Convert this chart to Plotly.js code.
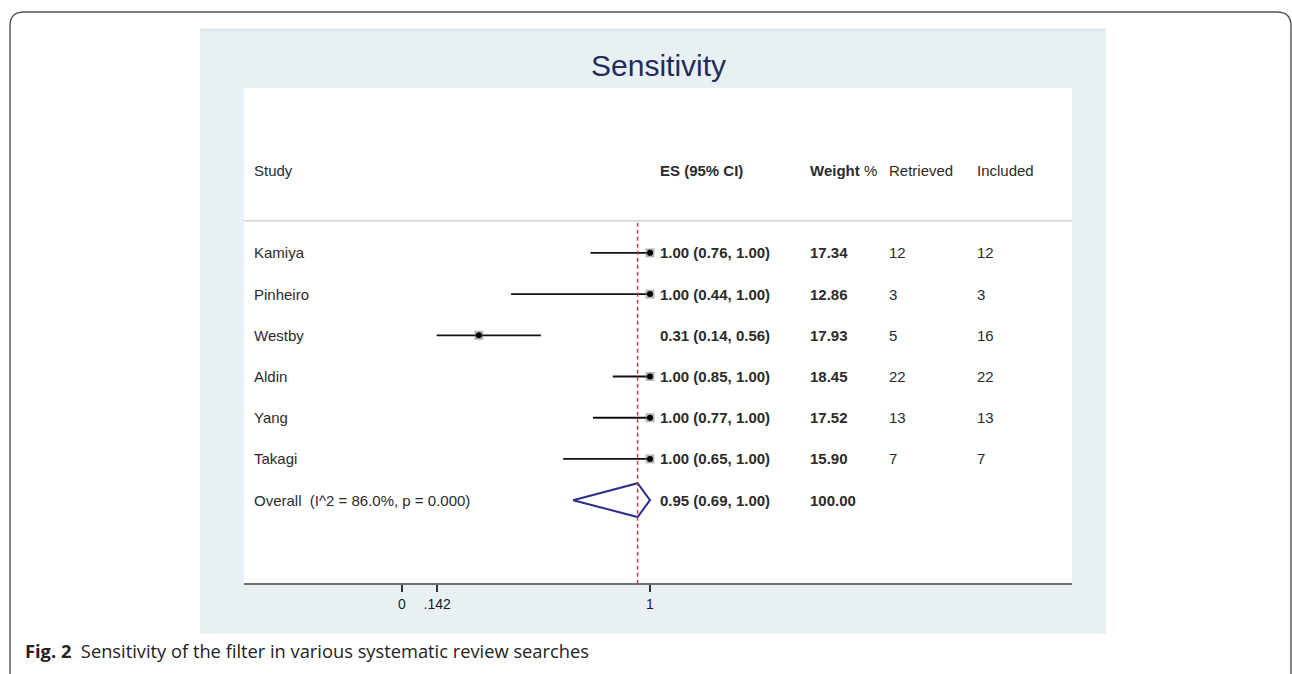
<!DOCTYPE html>
<html>
<head>
<meta charset="utf-8">
<script src="https://cdn.plot.ly/plotly-3.0.1.min.js"></script>
<style>html,body{margin:0;padding:0;background:#fff;}#chart{width:1292px;height:674px;}</style>
</head>
<body>
<div id="chart"></div>
<script>
// ---- data ----
const studies   = ['Kamiya', 'Pinheiro', 'Westby', 'Aldin', 'Yang', 'Takagi'];
const es        = [1.00, 1.00, 0.31, 1.00, 1.00, 1.00];
const ciLow     = [0.76, 0.44, 0.14, 0.85, 0.77, 0.65];
const ciHigh    = [1.00, 1.00, 0.56, 1.00, 1.00, 1.00];
const weights   = [17.34, 12.86, 17.93, 18.45, 17.52, 15.90];
const retrieved = [12, 3, 5, 22, 13, 7];
const included  = [12, 3, 16, 22, 13, 7];
const overallLabel = 'Overall  (I^2 = 86.0%, p = 0.000)';
const overallES = 0.95, overallLow = 0.69, overallHigh = 1.00, overallWeight = 100.00;
const tickVals  = [0, 0.142, 1];
const tickText  = ['0', '.142', '1'];
const headers   = {study: 'Study', es: '<b>ES (95% CI)</b>', weight: '<b>Weight</b> %', retrieved: 'Retrieved', included: 'Included'};

// ---- geometry (pixels of the 1292x674 canvas) ----
const W = 1292, H = 674;
const px = v => v / W, py = v => 1 - v / H;
const rows = studies.map((s, i) => i + 1);
const overallRow = studies.length + 1;
const headerRow = -1;
const sepRow = 0.22;

const fmt2 = v => v.toFixed(2);
const esText = (e, l, h) => '<b>' + fmt2(e) + ' (' + fmt2(l) + ', ' + fmt2(h) + ')</b>';

// CI line trace
const lx = [], ly = [];
studies.forEach((s, i) => { lx.push(ciLow[i], ciHigh[i], null); ly.push(rows[i], rows[i], null); });

const traces = [
  {x: lx, y: ly, mode: 'lines', line: {color: '#111', width: 1.8}, hoverinfo: 'skip', showlegend: false},
  {x: es, y: rows, mode: 'markers', marker: {symbol: 'square', size: 9, color: 'rgba(110,110,110,0.5)'}, hoverinfo: 'skip', showlegend: false},
  {x: es, y: rows, mode: 'markers', marker: {symbol: 'circle', size: 6, color: '#000'}, hoverinfo: 'skip', showlegend: false},
  {x: [overallLow, overallES, overallHigh, overallES, overallLow],
   y: [overallRow, overallRow - 0.41, overallRow, overallRow + 0.41, overallRow],
   mode: 'lines', line: {color: '#2a2e8c', width: 2}, hoverinfo: 'skip', showlegend: false}
];

const baseFont = {family: 'Liberation Sans, Arial, sans-serif', size: 15, color: '#2b2b2b'};
const col = {study: 252, es: 658, weight: 808, retrieved: 887, included: 975};

const ann = [];
function addText(x, y, text, extra) {
  ann.push(Object.assign({xref: 'paper', yref: 'y', x: px(x), y: y, text: text, showarrow: false,
    xanchor: 'left', yanchor: 'middle', font: baseFont}, extra || {}));
}
addText(col.study, headerRow, headers.study);
addText(col.es, headerRow, headers.es);
addText(col.weight, headerRow, headers.weight);
addText(col.retrieved, headerRow, headers.retrieved);
addText(col.included, headerRow, headers.included);
studies.forEach((s, i) => {
  addText(col.study, rows[i], s);
  addText(col.es, rows[i], esText(es[i], ciLow[i], ciHigh[i]));
  addText(col.weight, rows[i], '<b>' + fmt2(weights[i]) + '</b>');
  addText(col.retrieved, rows[i], String(retrieved[i]));
  addText(col.included, rows[i], String(included[i]));
});
addText(col.study, overallRow, overallLabel);
addText(col.es, overallRow, esText(overallES, overallLow, overallHigh));
addText(col.weight, overallRow, '<b>' + fmt2(overallWeight) + '</b>');

// title
ann.push({xref: 'paper', yref: 'paper', x: px(658), y: py(65), text: 'Sensitivity', showarrow: false,
  xanchor: 'center', yanchor: 'middle', font: {family: 'Liberation Sans, Arial, sans-serif', size: 30, color: '#1f2d5c'}});
// caption
ann.push({xref: 'paper', yref: 'paper', x: px(23), y: py(650),
  text: '<b>Fig. 2</b>  Sensitivity of the filter in various systematic review searches', showarrow: false,
  xanchor: 'left', yanchor: 'middle', font: {family: 'Open Sans, Noto Sans, sans-serif', size: 18.3, color: '#222'}});

const plotL = 244, plotR = 1072, plotT = 88, plotB = 583;
const zeroPx = 402, unitPx = 248;
const xRange = [(plotL - zeroPx) / unitPx, (plotR - zeroPx) / unitPx];

const shapes = [
  {type: 'rect', xref: 'paper', yref: 'paper', x0: px(200), x1: px(1106), y0: py(634), y1: py(29),
   fillcolor: '#e9f0f3', line: {width: 0}, layer: 'below'},
  {type: 'line', xref: 'paper', yref: 'paper', x0: px(200), x1: px(1106), y0: py(29.5), y1: py(29.5),
   line: {color: '#dde3e6', width: 1.5}, layer: 'below'},
  {type: 'rect', xref: 'paper', yref: 'paper', x0: px(plotL), x1: px(plotR), y0: py(plotB), y1: py(plotT),
   fillcolor: '#ffffff', line: {width: 0}, layer: 'below'},
  {type: 'line', xref: 'paper', yref: 'y', x0: px(plotL), x1: px(plotR), y0: sepRow, y1: sepRow,
   line: {color: '#cfcfcf', width: 1.5}},
  {type: 'line', xref: 'x', yref: 'y', x0: overallES, x1: overallES, y0: sepRow + 0.05, y1: 9.01,
   line: {color: '#c8363a', width: 1.4, dash: '4px,3px'}},
  {type: 'path', xref: 'paper', yref: 'paper',
   path: 'M' + px(10) + ',' + py(676) + ' L' + px(10) + ',' + py(26) + ' Q' + px(10) + ',' + py(12) + ' ' + px(24) + ',' + py(12) +
         ' L' + px(1277) + ',' + py(12) + ' Q' + px(1291) + ',' + py(12) + ' ' + px(1291) + ',' + py(26) + ' L' + px(1291) + ',' + py(676),
   line: {color: '#555', width: 1.4}}
];

const layout = {
  width: W, height: H,
  margin: {l: 0, r: 0, t: 0, b: 0, pad: 0},
  paper_bgcolor: '#ffffff', plot_bgcolor: 'rgba(0,0,0,0)',
  showlegend: false,
  xaxis: {domain: [px(plotL), px(plotR)], range: xRange, showgrid: false, zeroline: false,
    showline: true, linecolor: '#6e6e6e', linewidth: 2,
    tickmode: 'array', tickvals: tickVals, ticktext: tickText, ticks: 'outside', ticklen: 7, tickwidth: 1.5,
    tickcolor: '#333', tickfont: {family: 'Liberation Sans, Arial, sans-serif', size: 14, color: '#1a1a1a'}, fixedrange: true},
  yaxis: {domain: [1 - plotB / H, 1 - plotT / H], range: [9.01, -3], showgrid: false, zeroline: false,
    showline: false, showticklabels: false, ticks: '', fixedrange: true},
  annotations: ann,
  shapes: shapes
};

Plotly.newPlot('chart', traces, layout, {displayModeBar: false, staticPlot: true});
</script>
</body>
</html>
